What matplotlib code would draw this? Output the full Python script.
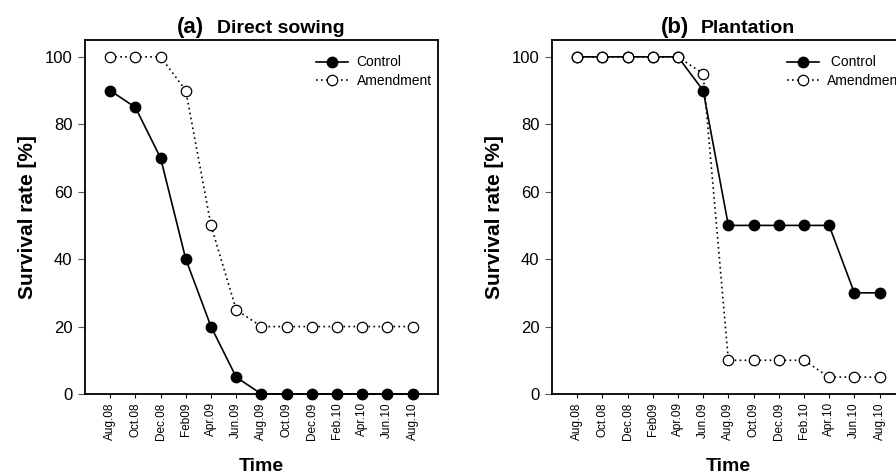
import matplotlib
matplotlib.use("Agg")
import matplotlib.pyplot as plt
import numpy as np

plt.rcParams['font.family'] = ['Liberation Sans', 'DejaVu Sans']

# Sampling dates (x axis)
dates = ['Aug.08', 'Oct.08', 'Dec.08', 'Feb09', 'Apr.09', 'Jun.09', 'Aug.09',
         'Oct.09', 'Dec.09', 'Feb.10', 'Apr.10', 'Jun.10', 'Aug.10']

# (a) Direct sowing - survival rate [%]
sowing_control = [90, 85, 70, 40, 20, 5, 0, 0, 0, 0, 0, 0, 0]
sowing_amend = [100, 100, 100, 90, 50, 25, 20, 20, 20, 20, 20, 20, 20]

# (b) Plantation - survival rate [%]
plant_control = [100, 100, 100, 100, 100, 90, 50, 50, 50, 50, 50, 30, 30]
plant_amend = [100, 100, 100, 100, 100, 95, 10, 10, 10, 10, 5, 5, 5]

yticks = [0, 20, 40, 60, 80, 100]

fig = plt.figure(figsize=(8.96, 4.76), dpi=100)
ax_a = fig.add_axes([0.0949, 0.1723, 0.3936, 0.7437])
ax_b = fig.add_axes([0.6161, 0.1723, 0.3936, 0.7437])

x = np.arange(len(dates))


def draw_panel(ax, control, amend, tag, name, tag_x, name_x, ctrl_label):
    ax.plot(x, control, color='black', lw=1.2, marker='o', ms=7.5,
            mfc='black', mec='black', clip_on=False, zorder=3,
            label=ctrl_label)
    ax.plot(x, amend, color='black', lw=1.2, ls=(0, (1, 2)), marker='o',
            ms=7.5, mfc='white', mec='black', mew=0.9, clip_on=False,
            zorder=4, label='Amendment')
    ax.set_xlim(-1, 13)
    ax.set_ylim(0, 105)
    ax.set_xticks(x)
    ax.set_xticklabels(dates, rotation=90, fontsize=8.5)
    ax.set_yticks(yticks)
    ax.tick_params(axis='y', labelsize=12, length=5, width=0.8, pad=4,
                   direction='out', color='#555555')
    ax.tick_params(axis='x', length=3, width=0.8, pad=3, direction='out')
    for sp in ax.spines.values():
        sp.set_linewidth(1.3)
    ax.set_ylabel('Survival rate [%]', fontsize=15, fontweight='bold')
    ax.yaxis.set_label_coords(-0.135, 0.5)
    ax.set_xlabel('Time', fontsize=14, fontweight='bold')
    ax.xaxis.set_label_coords(0.5, -0.18)
    ax.text(tag_x, 1.02, tag, transform=ax.transAxes, ha='right',
            va='baseline', fontsize=16, fontweight='bold')
    ax.text(name_x, 1.02, name, transform=ax.transAxes, ha='left',
            va='baseline', fontsize=14, fontweight='bold')


draw_panel(ax_a, sowing_control, sowing_amend, '(a)', 'Direct sowing',
           0.337, 0.375, 'Control')
draw_panel(ax_b, plant_control, plant_amend, '(b)', 'Plantation',
           0.388, 0.422, ' Control')

ax_a.legend(loc='upper left', bbox_to_anchor=(0.64, 0.972), frameon=False,
            fontsize=10, handlelength=2.3, handletextpad=0.6,
            labelspacing=0.3, borderaxespad=0)
ax_b.legend(loc='upper left', bbox_to_anchor=(0.65, 0.972), frameon=False,
            fontsize=10, handlelength=2.3, handletextpad=0.6,
            labelspacing=0.3, borderaxespad=0)

fig.savefig('out.png', dpi=100)
